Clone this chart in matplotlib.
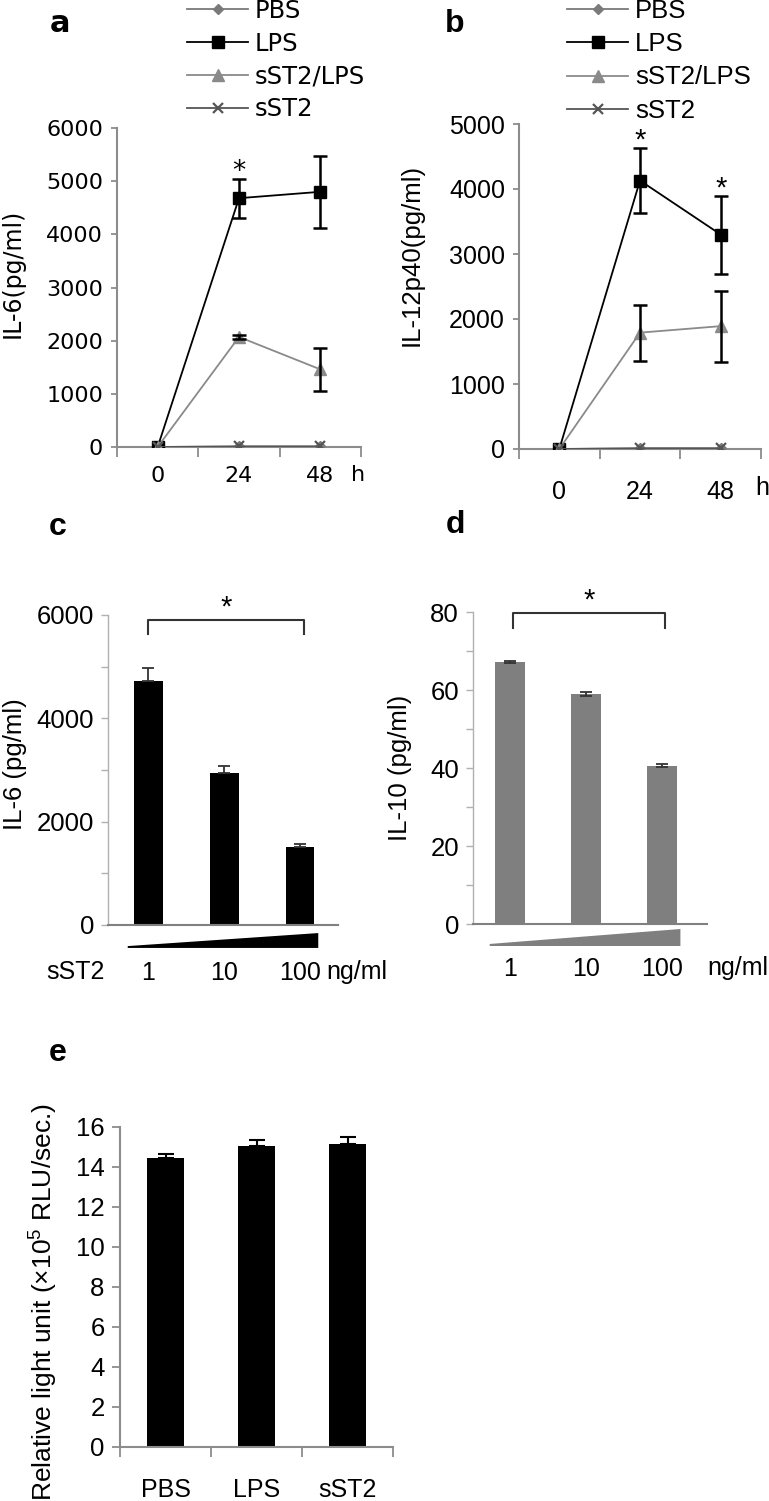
import numpy as np
import matplotlib
matplotlib.use('Agg')
import matplotlib.pyplot as plt
from matplotlib.patches import Polygon

plt.rcParams['mathtext.default'] = 'regular'

W, H = 769, 1501

# time course (a, b)
hours = ['0', '24', '48']
series_names = ['PBS', 'LPS', 'sST2/LPS', 'sST2']

il6_pbs = [0, 10, 10]
il6_lps = [0, 4680, 4800]
il6_lps_err = [0, 370, 680]
il6_sst2_lps = [0, 2070, 1460]
il6_sst2_lps_err = [0, 30, 410]
il6_sst2 = [0, 10, 10]

il12_pbs = [0, 10, 10]
il12_lps = [0, 4130, 3300]
il12_lps_err = [0, 500, 600]
il12_sst2_lps = [0, 1790, 1890]
il12_sst2_lps_err = [0, 430, 545]
il12_sst2 = [0, 10, 10]

# dose response (c, d)
doses = ['1', '10', '100']
c_il6 = [4720, 2940, 1510]
c_il6_err = [250, 135, 60]
d_il10 = [67.2, 59.0, 40.6]
d_il10_err = [0.3, 0.5, 0.4]

# reporter (e)
e_groups = ['PBS', 'LPS', 'sST2']
e_rlu = [14.45, 15.05, 15.15]
e_rlu_err = [0.2, 0.3, 0.35]

fig = plt.figure(figsize=(W / 100, H / 100), dpi=100)


def fx(x):
    return x / W


def fy(y):
    return 1 - y / H


def add_ax(left, top, right, bottom):
    ax = fig.add_axes([fx(left), fy(bottom), (right - left) / W, (bottom - top) / H])
    ax.spines['top'].set_visible(False)
    ax.spines['right'].set_visible(False)
    ax.patch.set_alpha(0)
    return ax


def time_panel(box, pbs, lps, lps_err, sl, sl_err, sst2, ymax, font, fs, leg_fs,
               leg_x, lab_pad, stars):
    ax = add_ax(*box)
    x = np.arange(len(hours))
    gray = '#8c8c8c'
    l1, = ax.plot(x, pbs, color='#7a7a7a', marker='D', ms=5, lw=1.3, zorder=3)
    l2, = ax.plot(x, lps, color='black', marker='s', ms=8.5, lw=1.3, zorder=4)
    l3, = ax.plot(x, sl, color='#8a8a8a', marker='^', ms=8.5, lw=1.3, zorder=5)
    l4, = ax.plot(x, sst2, color='#555555', marker='x', ms=7, mew=1.6, lw=1.3, zorder=6)
    ax.errorbar(x[1:], lps[1:], yerr=lps_err[1:], fmt='none', ecolor='black',
                elinewidth=1.8, capsize=5, capthick=1.8, zorder=4)
    ax.errorbar(x[1:], sl[1:], yerr=sl_err[1:], fmt='none', ecolor='black',
                elinewidth=1.8, capsize=5, capthick=1.8, zorder=5)
    for i in stars:
        ax.annotate('*', (x[i], lps[i] + lps_err[i]), xytext=(0, -5),
                    textcoords='offset points', ha='center', va='bottom',
                    fontsize=fs + 3, family=font, annotation_clip=False)

    ax.set_xlim(-0.5, 2.5)
    ax.set_ylim(0, ymax)
    ax.set_yticks(np.arange(0, ymax + 1, 1000))
    ax.set_yticklabels([str(v) for v in range(0, ymax + 1, 1000)], family=font, fontsize=fs)
    ax.set_xticks([-0.5, 0.5, 1.5, 2.5])
    ax.set_xticklabels([])
    ax.set_xticks(x, minor=True)
    ax.set_xticklabels(hours, minor=True, family=font, fontsize=fs)
    ax.tick_params(axis='x', which='major', length=7, width=1.3, color=gray, direction='out')
    ax.tick_params(axis='x', which='minor', length=0, pad=lab_pad)
    ax.tick_params(axis='y', length=4, width=1.3, color=gray, pad=6)
    for s in ('left', 'bottom'):
        ax.spines[s].set_color(gray)
        ax.spines[s].set_linewidth(1.5)

    fsp = leg_fs * 100 / 72
    ax.legend([l1, l2, l3, l4], series_names, loc='upper left',
              bbox_to_anchor=(fx(leg_x), fy(-1)), bbox_transform=fig.transFigure,
              frameon=False, borderpad=0, borderaxespad=0,
              handlelength=61 / fsp, handletextpad=7 / fsp, labelspacing=0.36,
              prop={'family': font, 'size': leg_fs})
    return ax


axa = time_panel((117, 128, 361, 447), il6_pbs, il6_lps, il6_lps_err,
                 il6_sst2_lps, il6_sst2_lps_err, il6_sst2, 6000, 'DejaVu Sans', 16, 17.5,
                 187, 14, [1])
fig.text(fx(13), fy(273), 'IL-6(pg/ml)', rotation=90, ha='center', va='center',
         family='DejaVu Sans', fontsize=17)
fig.text(fx(358), fy(475), 'h', ha='center', va='center', family='DejaVu Sans', fontsize=16)
fig.text(fx(60), fy(24), 'a', ha='center', va='center', family='DejaVu Sans',
         fontsize=22, weight='bold')

axb = time_panel((519, 124, 761, 449), il12_pbs, il12_lps, il12_lps_err,
                 il12_sst2_lps, il12_sst2_lps_err, il12_sst2, 5000, 'Liberation Sans', 18, 18.5,
                 567, 22, [1, 2])
fig.text(fx(412), fy(255), 'IL-12p40(pg/ml)', rotation=90, ha='center', va='center',
         family='Liberation Sans', fontsize=18.5)
fig.text(fx(762), fy(488), 'h', ha='center', va='center', family='Liberation Sans', fontsize=18)
fig.text(fx(455), fy(24), 'b', ha='center', va='center', family='Liberation Sans',
         fontsize=23, weight='bold')


def dose_panel(box, vals, errs, color, ymax, ystep, label_every, xlim, width,
               both_err, wedge_y, bracket_x, bracket_y, pad):
    ax = add_ax(*box)
    x = np.arange(len(doses))
    ax.bar(x, vals, width=width, color=color, zorder=2)
    if both_err:
        yerr = errs
    else:
        yerr = [np.zeros(len(errs)), errs]
    ax.errorbar(x, vals, yerr=yerr, fmt='none', ecolor='#333333', elinewidth=1.3,
                capsize=4, capthick=1.3, zorder=3)
    ax.set_xlim(*xlim)
    ax.set_ylim(0, ymax)
    ticks = np.arange(0, ymax + ystep / 2, ystep)
    ax.set_yticks(ticks)
    ax.set_yticklabels([('%g' % t) if (t % label_every == 0) else '' for t in ticks],
                       family='Liberation Sans', fontsize=18.5)
    ax.set_xticks(x)
    ax.set_xticklabels(doses, family='Liberation Sans', fontsize=18)
    ax.tick_params(axis='x', length=0, pad=pad)
    ax.tick_params(axis='y', length=5, width=1, color='#b0b0b0', pad=5)
    ax.spines['left'].set_color('#b0b0b0')
    ax.spines['left'].set_linewidth(1)
    ax.spines['bottom'].set_color('#808080')
    ax.spines['bottom'].set_linewidth(1.5)

    trans = ax.get_xaxis_transform()
    x0, x1 = x[0] - 0.27, x[-1] + 0.24
    ax.add_patch(Polygon([[x0, wedge_y[0]], [x1, wedge_y[0]], [x1, wedge_y[2]], [x0, wedge_y[1]]],
                         closed=True, facecolor=color, edgecolor='none',
                         transform=trans, clip_on=False))
    bx0, bx1 = bracket_x
    yt, yb = bracket_y
    ax.plot([bx0, bx0, bx1, bx1], [yb, yt, yt, yb], color='#333333', lw=1.5, clip_on=False)
    ax.annotate('*', ((bx0 + bx1) / 2, yt), xytext=(0, -1), textcoords='offset points',
                ha='center', va='bottom', fontsize=21, family='Liberation Sans',
                annotation_clip=False)
    return ax


axc = dose_panel((108, 615, 338, 925), c_il6, c_il6_err, 'black', 6000, 1000, 2000,
                 (-0.53, 2.5), 0.38, False, (-0.074, -0.068, -0.026),
                 (0, 2.05), (5903, 5632), 26)
fig.text(fx(15), fy(764), 'IL-6 (pg/ml)', rotation=90, ha='center', va='center',
         family='Liberation Sans', fontsize=18.5)
fig.text(fx(75), fy(972), 'sST2', ha='center', va='center', family='Liberation Sans', fontsize=18)
fig.text(fx(326), fy(972), 'ng/ml', ha='left', va='center', family='Liberation Sans', fontsize=18)
fig.text(fx(58), fy(527), 'c', ha='center', va='center', family='Liberation Sans',
         fontsize=23, weight='bold')

axd = dose_panel((473, 612, 707, 924), d_il10, d_il10_err, '#7f7f7f', 80, 10, 20,
                 (-0.49, 2.59), 0.4, True, (-0.0705, -0.064, -0.016),
                 (0.03, 2.04), (79.7, 75.9), 24)
fig.text(fx(400), fy(768), 'IL-10 (pg/ml)', rotation=90, ha='center', va='center',
         family='Liberation Sans', fontsize=18.5)
fig.text(fx(707), fy(968), 'ng/ml', ha='left', va='center', family='Liberation Sans', fontsize=18)
fig.text(fx(455), fy(525), 'd', ha='center', va='center', family='Liberation Sans',
         fontsize=23, weight='bold')

# panel e
axe = add_ax(120, 1127, 393, 1447)
xe = np.arange(len(e_groups))
axe.bar(xe, e_rlu, width=0.4, color='black', zorder=2)
axe.errorbar(xe, e_rlu, yerr=[np.zeros(3), e_rlu_err], fmt='none', ecolor='black',
             elinewidth=1.5, capsize=6, capthick=1.5, zorder=3)
axe.set_xlim(-0.5, 2.5)
axe.set_ylim(0, 16)
axe.set_yticks(np.arange(0, 17, 2))
axe.set_yticklabels([str(v) for v in range(0, 17, 2)], family='Liberation Sans', fontsize=18.5)
axe.set_xticks([-0.5, 0.5, 1.5, 2.5])
axe.set_xticklabels([])
axe.set_xticks(xe, minor=True)
axe.set_xticklabels(e_groups, minor=True, family='Liberation Sans', fontsize=18)
axe.tick_params(axis='x', which='major', length=7, width=1.3, color='#8c8c8c')
axe.tick_params(axis='x', which='minor', length=0, pad=22)
axe.tick_params(axis='y', length=6, width=1.3, color='#8c8c8c', pad=5)
for s in ('left', 'bottom'):
    axe.spines[s].set_color('#8c8c8c')
    axe.spines[s].set_linewidth(1.5)
fig.text(fx(44), fy(1302), 'Relative light unit (×10$^{5}$ RLU/sec.)', rotation=90,
         ha='center', va='center', family='Liberation Sans', fontsize=19)
fig.text(fx(58), fy(1053), 'e', ha='center', va='center', family='Liberation Sans',
         fontsize=23, weight='bold')

fig.savefig('out.png', dpi=100, facecolor='white')
